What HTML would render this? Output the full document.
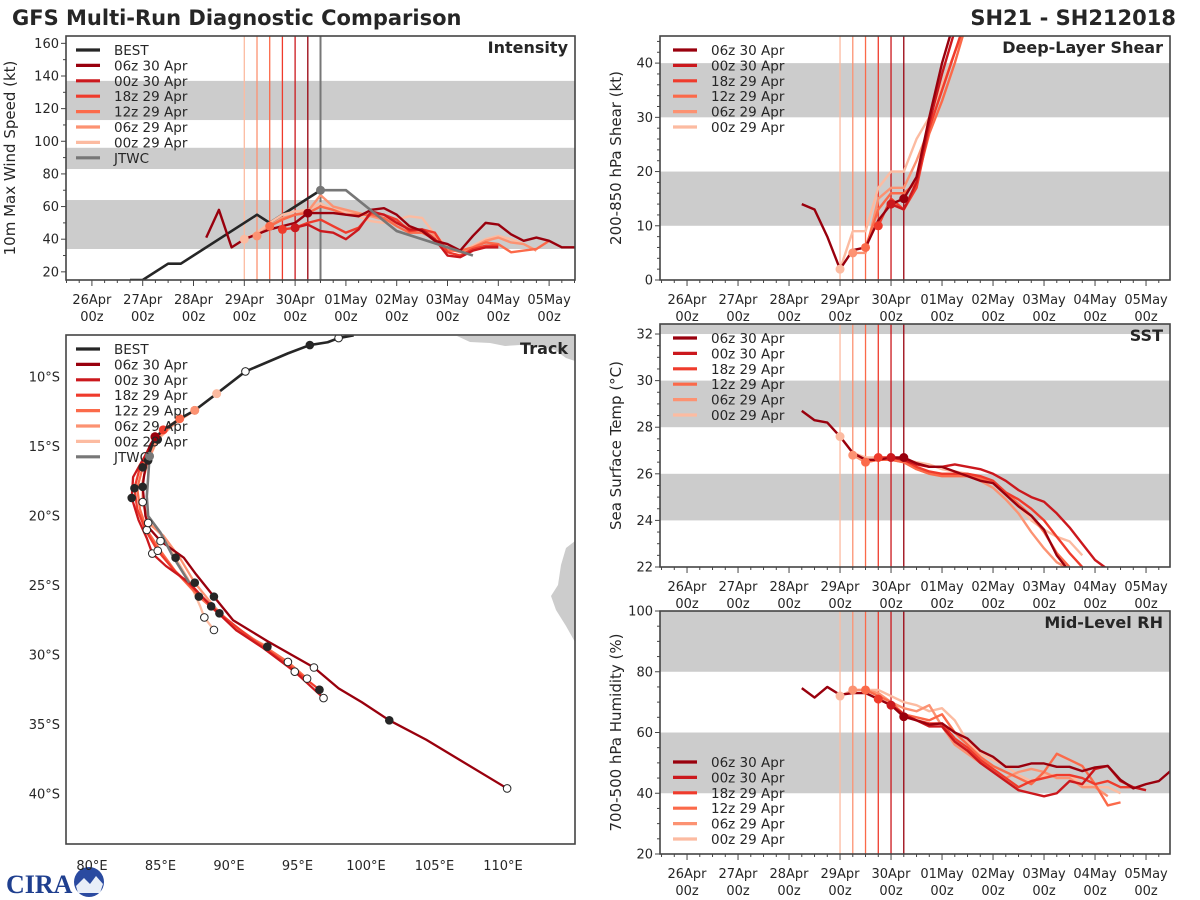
<!DOCTYPE html>
<html><head><meta charset="utf-8"><style>
html,body{margin:0;padding:0;background:#fff;}
svg{display:block;font-family:"DejaVu Sans","Liberation Sans",sans-serif;}
</style></head><body>
<svg id="root" width="1200" height="900" viewBox="0 0 1200 900" xmlns="http://www.w3.org/2000/svg">
<text x="12" y="25" font-size="21" font-weight="bold" fill="#262626">GFS Multi-Run Diagnostic Comparison</text>
<text x="1176" y="25" font-size="21" font-weight="bold" fill="#262626" text-anchor="end">SH21 - SH212018</text>
<g>
<text x="6" y="893" font-size="26" font-weight="bold" fill="#1f3f8f" font-family="Liberation Serif, serif">CIRA</text>
<circle cx="89" cy="882" r="15" fill="#2a4aa0"/>
<path d="M76 886 L84 878 L90 884 L96 876 L103 884 L100 893 L78 893 Z" fill="#e8eef8"/>
</g>
</svg>
<script>
// ---------- shared data ----------
const runNames = ['06z 30 Apr','00z 30 Apr','18z 29 Apr','12z 29 Apr','06z 29 Apr','00z 29 Apr'];
const runColors = ['#99000d','#cb181d','#ef3b2c','#fb6a4a','#fc9272','#fcbba1'];
const initDays = [4.25,4.0,3.75,3.5,3.25,3.0];
const dayLabels = ['26Apr','27Apr','28Apr','29Apr','30Apr','01May','02May','03May','04May','05May'];
const hourLabels = ['00z','00z','00z','00z','00z','00z','00z','00z','00z','00z'];

// intensity (kt)
const intensityStart = [2.25,4.0,3.75,3.5,3.25,3.0];
const intensityValues = [
 [41,58,35,40,43,46,48,50,56,56,56,55,54,58,59,55,48,45,39,37,33,42,50,49,43,39,41,39,35,35],
 [47,49,45,44,40,46,57,55,50,46,46,40,30,29,33,35,35],
 [46,47,50,52,48,44,47,56,55,52,45,46,44,32,30,34,36,36],
 [48,52,55,56,60,58,55,55,55,53,48,44,44,40,33,33,35,38,37,32,33,34,39],
 [42,48,53,55,57,67,60,58,56,54,52,50,47,45,42,34,32,35,39,41,38,37,33],
 [40,44,50,55,57,58,62,58,57,54,51,50,52,54,53,43,35,32,36,40,42,40,37]
];
const bestDays = [0.75,1.0,1.5,1.75,3.25,3.5,4.5];
const bestKt = [15,15,25,25,55,50,70];
const jtwcDays = [4.5,5.0,6.0,7.5];
const jtwcKt = [70,70,45,30];

// shear (kt)
const shearStart = [2.25,4.0,3.75,3.5,3.25,3.0];
const shearValues = [
 [14,13,8,2,5.5,6,11,14,15,19,30,40,48],
 [14,13,18,29,38,46],
 [10,15,13,17,28,35,42,49],
 [6,13,16,16,18,27,33,40,48],
 [5,5,15,17,17,22,28,35,42,48],
 [2,9,9,17,20,20,26,30,36,42,48]
];
// SST (C)
const sstStart = [2.25,4.0,3.75,3.5,3.25,3.0];
const sstValues = [
 [28.7,28.3,28.2,27.6,26.9,26.6,26.6,26.7,26.7,26.45,26.3,26.3,26.1,25.9,25.7,25.6,25.1,24.6,24.2,23.6,22.5,21.8],
 [26.7,26.6,26.4,26.3,26.3,26.4,26.3,26.2,26.0,25.7,25.3,25.0,24.8,24.3,23.7,23.0,22.3,21.9],
 [26.7,26.7,26.6,26.3,26.1,26.0,26.0,26.0,25.9,25.7,25.2,24.9,24.5,24.0,23.3,22.6,22.0],
 [26.5,26.6,26.6,26.5,26.2,26.0,25.9,25.9,25.9,25.8,25.6,25.2,24.7,24.2,23.5,22.6,22.0],
 [26.8,26.5,26.6,26.6,26.5,26.2,26.0,26.0,26.0,25.9,25.7,25.4,24.9,24.3,23.5,22.8,22.2,21.9],
 [27.6,26.9,26.7,26.7,26.7,26.6,26.5,26.4,26.2,26.1,26.0,25.8,25.6,25.2,24.6,24.0,23.6,23.3,23.1,22.5]
];
// RH (%)
const rhStart = [2.25,4.0,3.75,3.5,3.25,3.0];
const rhValues = [
 [74.6,71.5,75,72.4,73,73,71,69,65.2,64,62.6,63,60,58,54,52,48.7,48.7,49.8,49.8,48.7,48.7,47.3,48.5,49,44.4,41.6,43,44,47.6],
 [69,66,64,62,62,57,54,50,47,44,41,40,39,40,44,43,48,49,44,42,41],
 [71,69,66,64,63,63,58,55,51,48,45,42,44,45,46,46,45,43,44,42,42],
 [74,72,70,66,65,64,66,60,56,52,49,47,45,43,47,53,51,49,43,36,37],
 [74,74,73,70,68,67,69,62,56,53,50,48,45,47,48,47,45,45,42,42,39],
 [72,74,74,74,72,70,69,67,68,64,57,53,51,49,46,44,46,46,46,43,42,42,40]
];
// tracks [lon E, lat S]
const bestTrack = [[99.1,7.0],[98.0,7.2],[97.2,7.5],[95.9,7.7],[94.3,8.3],[91.2,9.6],[89.1,11.2],[87.5,12.4],[86.4,13.0],[84.6,14.3],[84.1,15.7]];
const jtwcTrack = [[84.2,15.7],[84.1,17.2],[84.0,18.6],[84.1,20.0],[85.0,21.2],[85.9,22.9],[87.1,24.8]];
const runTracks = [
 [[84.6,14.3],[84.2,15.0],[83.8,17.1],[83.7,17.9],[83.9,20.0],[84.2,20.9],[85.0,21.8],[86.7,23.0],[87.6,24.2],[88.9,25.8],[90.3,27.5],[92.8,29.0],[96.2,30.9],[98.0,32.4],[99.7,33.4],[101.7,34.7],[104.4,36.1],[110.3,39.6]],
 [[84.6,14.3],[83.8,15.8],[83.0,17.2],[82.9,18.7],[83.4,20.3],[84.0,21.6],[84.4,22.7],[85.4,23.6],[87.1,24.8],[88.7,26.5],[90.5,28.2],[92.5,29.5],[94.8,31.2],[96.9,33.1]],
 [[85.2,13.8],[84.3,14.8],[83.5,16.5],[83.1,18.0],[83.3,19.5],[83.9,21.0],[84.8,22.5],[85.9,23.8],[87.5,25.3],[89.3,27.0],[91.6,28.8],[94.3,30.7],[96.6,32.5]],
 [[86.4,13.0],[85.2,13.8],[84.3,15.0],[83.7,16.5],[83.3,18.0],[83.5,19.5],[84.0,21.0],[85.0,22.5],[86.1,24.0],[87.8,25.8],[89.8,27.5],[92.0,29.0],[94.3,30.5],[95.7,31.7]],
 [[87.5,12.4],[86.2,13.2],[84.8,14.4],[84.1,16.0],[83.7,17.5],[83.7,19.0],[84.1,20.5],[85.2,21.4],[86.4,23.0],[87.5,24.8],[88.9,26.5],[90.7,28.3],[92.8,29.4]],
 [[89.1,11.2],[87.5,12.4],[86.1,13.3],[84.8,14.5],[84.1,16.0],[83.7,17.5],[83.7,19.0],[84.2,20.5],[85.2,21.5],[86.1,23.0],[87.0,24.5],[87.9,26.5],[88.2,27.3],[88.9,28.2]]
];
const lonTicks = [80,85,90,95,100,105,110];
const latTicks = [10,15,20,25,30,35,40];

// ---------- helpers ----------
const NS = 'http://www.w3.org/2000/svg';
const root = document.getElementById('root');
function mk(tag, attrs, parent) {
  const e = document.createElementNS(NS, tag);
  for (const k in attrs) e.setAttribute(k, attrs[k]);
  (parent || root).appendChild(e);
  return e;
}
const TXT = '#262626';

function timePanel(cfg) {
  const g = mk('g', {});
  
  
  const {x0,x1,y0,y1,ymin,ymax,tmin,ppd} = cfg;
  const sx = t => x0 + (t - tmin) * ppd;
  const sy = v => y1 - (v - ymin) / (ymax - ymin) * (y1 - y0);
  const cid = 'clip-' + cfg.name;
  const cp = mk('clipPath', {id: cid}, g);
  mk('rect', {x:x0, y:y0, width:x1-x0, height:y1-y0}, cp);
  const inner = mk('g', {'clip-path': 'url(#' + cid + ')'}, g);
  cfg.bands.forEach(b => {
    const top = Math.min(b[1], ymax+5);
    const r = mk('rect', {x:x0, y:sy(top), width:x1-x0, height:sy(b[0])-sy(top), fill:'#cccccc'}, inner);
    
    
  });
  for (let i = runNames.length - 1; i >= 0; i--) {
    const l = mk('line', {x1:sx(initDays[i]), x2:sx(initDays[i]), y1:y0, y2:y1, stroke:runColors[i], 'stroke-width':1.3}, inner);
    
    
  }
  if (cfg.currentLine) {
    const l = mk('line', {x1:sx(cfg.currentLine), x2:sx(cfg.currentLine), y1:y0, y2:y1, stroke:'#777777', 'stroke-width':2}, inner);
    
    
  }
  if (cfg.bestDays) {
    const pts = cfg.bestDays.map((t,i) => sx(t)+','+sy(cfg.bestVals[i])).join(' ');
    const pl = mk('polyline', {points:pts, fill:'none', stroke:'#262626', 'stroke-width':2.6, 'stroke-linejoin':'round'}, inner);
    
    
  }
  for (let i = runNames.length - 1; i >= 0; i--) {
    const vals = cfg.values[i];
    const pts = vals.map((v,k) => sx(cfg.start[i] + k*0.25)+','+sy(v)).join(' ');
    const pl = mk('polyline', {points:pts, fill:'none', stroke:runColors[i], 'stroke-width':2.4, 'stroke-linejoin':'round'}, inner);
    
    
  }
  for (let i = runNames.length - 1; i >= 0; i--) {
    const k = Math.round((initDays[i] - cfg.start[i]) / 0.25);
    const v = cfg.values[i][k];
    const c = mk('circle', {cx:sx(initDays[i]), cy:sy(v), r:4.5, fill:runColors[i]}, inner);
    
    
  }
  if (cfg.jtwcDays) {
    const pts = cfg.jtwcDays.map((t,i) => sx(t)+','+sy(cfg.jtwcVals[i])).join(' ');
    const pl = mk('polyline', {points:pts, fill:'none', stroke:'#777777', 'stroke-width':2.6}, inner);
    
    
    const c = mk('circle', {cx:sx(cfg.jtwcDays[0]), cy:sy(cfg.jtwcVals[0]), r:4.5, fill:'#777777'}, inner);
    
    
  }
  const fr = mk('rect', {x:x0, y:y0, width:x1-x0, height:y1-y0, fill:'none', stroke:'#444', 'stroke-width':1.6}, g);
  
  
  for (let v = cfg.yticks[0]; v <= ymax + 1e-6; v += cfg.yminor) {
    const q = (v - cfg.yticks[0]) / cfg.ystep;
    const isMaj = Math.abs(q - Math.round(q)) < 1e-6 && v <= cfg.yticks[1] + 1e-6;
    mk('line', {x1:x0-(isMaj?5:3), x2:x0, y1:sy(v), y2:sy(v), stroke:'#444', 'stroke-width':1}, g);
    if (isMaj) {
      const t = mk('text', {x:x0-7, y:sy(v)+4.5, 'font-size':13, fill:TXT, 'text-anchor':'end'}, g);
      t.textContent = String(Math.round(v));
      
      
    }
  }
  for (let d = Math.ceil(tmin*4)/4; d <= (x1-x0)/ppd + tmin; d += 0.25) {
    const maj = Math.abs(d - Math.round(d)) < 1e-6;
    mk('line', {x1:sx(d), x2:sx(d), y1:y1, y2:y1+(maj?6:3), stroke:'#444', 'stroke-width':1}, g);
  }
  dayLabels.forEach((lab, i) => {
    const t1 = mk('text', {x:sx(i), y:y1+24, 'font-size':13, fill:TXT, 'text-anchor':'middle'}, g);
    t1.textContent = lab;
    
    
    const t2 = mk('text', {x:sx(i), y:y1+41, 'font-size':13, fill:TXT, 'text-anchor':'middle'}, g);
    t2.textContent = hourLabels[i];
    
    
  });
  const yc = (y0+y1)/2;
  const yt = mk('text', {x:cfg.ytx, y:yc, 'font-size':15, fill:TXT, 'text-anchor':'middle', transform:'rotate(-90 '+cfg.ytx+' '+yc+')'}, g);
  yt.textContent = cfg.ylabel;
  
  
  const pt = mk('text', {x:x1-7, y:y0+17, 'font-size':16, 'font-weight':'bold', fill:TXT, 'text-anchor':'end'}, g);
  pt.textContent = cfg.title;
  
  
  legend(g, cfg.legX, cfg.legY, cfg.legendBest);
}

function legend(g, lx, ly, withBest) {
  const items = [];
  if (withBest) items.push(['BEST', '#262626']);
  runNames.forEach((n,i) => items.push([n, runColors[i]]));
  if (withBest) items.push(['JTWC', '#777777']);
  const lg = mk('g', {}, g);
  
  
  items.forEach((it, i) => {
    const y = ly + i*15.4;
    mk('line', {x1:lx, x2:lx+24, y1:y, y2:y, stroke:it[1], 'stroke-width':3.2}, lg);
    const t = mk('text', {x:lx+38, y:y+5, 'font-size':13.5, fill:TXT}, lg);
    t.textContent = it[0];
    
    
  });
}

timePanel({name:'intensity-panel', x0:66, x1:575, y0:36, y1:280, ymin:15, ymax:164.5, tmin:-0.51, ppd:50.8,
  bands:[[34,64],[83,96],[113,137]], yticks:[20,160], ystep:20, yminor:10, title:'Intensity', ylabel:'10m Max Wind Speed (kt)', ytx:15,
  values:intensityValues, start:intensityStart, bestDays:bestDays, bestVals:bestKt, jtwcDays:jtwcDays, jtwcVals:jtwcKt, currentLine:4.5,
  legX:76, legY:50, legendBest:true});
timePanel({name:'shear-panel', x0:660, x1:1170, y0:36, y1:280, ymin:0, ymax:45, tmin:-0.53, ppd:51,
  bands:[[10,20],[30,40]], yticks:[0,40], ystep:10, yminor:2, title:'Deep-Layer Shear', ylabel:'200-850 hPa Shear (kt)', ytx:621,
  values:shearValues, start:shearStart, legX:673, legY:50, legendBest:false});
timePanel({name:'sst-panel', x0:660, x1:1170, y0:324, y1:567, ymin:22, ymax:32.43, tmin:-0.53, ppd:51,
  bands:[[24,26],[28,30],[32,34]], yticks:[22,32], ystep:2, yminor:0.5, title:'SST', ylabel:'Sea Surface Temp (°C)', ytx:621,
  values:sstValues, start:sstStart, legX:673, legY:338, legendBest:false});
timePanel({name:'rh-panel', x0:660, x1:1170, y0:611, y1:854, ymin:20, ymax:100, tmin:-0.53, ppd:51,
  bands:[[40,60],[80,100]], yticks:[20,100], ystep:20, yminor:5, title:'Mid-Level RH', ylabel:'700-500 hPa Humidity (%)', ytx:621,
  values:rhValues, start:rhStart, legX:673, legY:762, legendBest:false});

// ---------- track panel ----------
(function(){
  const x0=66, x1=575, y0=335, y1=844;
  const px = lon => 92 + (lon-80)*13.7;
  const py = lat => 377 + (lat-10)*13.9;
  const g = mk('g', {});
  
  
  const cp = mk('clipPath', {id:'clip-track'}, g);
  mk('rect', {x:x0, y:y0, width:x1-x0, height:y1-y0}, cp);
  const inner = mk('g', {'clip-path':'url(#clip-track)'}, g);
  const land1 = mk('path', {d:'M457 336 L575 336 L575 361 L566 358 L555 350 L540 347 L520 345 L505 346 L490 343 L470 342 Z', fill:'#cccccc'}, inner);
  
  
  const land2 = mk('path', {d:'M575 541 L566 548 L561 565 L558 585 L551 596 L556 610 L566 626 L575 642 Z', fill:'#cccccc'}, inner);
  
  
  function drawTrack(tr, color, name, w) {
    const pl = mk('polyline', {points:tr.map(p => px(p[0])+','+py(p[1])).join(' '), fill:'none', stroke:color, 'stroke-width':w, 'stroke-linejoin':'round'}, inner);
    
    
  }
  for (let i = runTracks.length-1; i >= 0; i--) drawTrack(runTracks[i], runColors[i], 'track-' + runNames[i].replace(/ /g,'-').toLowerCase(), 2.3);
  drawTrack(jtwcTrack, '#777777', 'track-jtwc', 2.6);
  drawTrack(bestTrack, '#262626', 'track-best', 2.6);
  function marker(p, open) {
    const c = mk('circle', {cx:px(p[0]), cy:py(p[1]), r:3.8, fill:open?'#ffffff':'#262626', stroke:'#262626', 'stroke-width':1}, inner);
    
    
  }
  bestTrack.forEach((p,k) => { if (k % 2 === 1) marker(p, k % 4 === 1); });
  runTracks.forEach(tr => tr.forEach((p,k) => { if (k > 0 && k % 3 === 0) marker(p, k % 6 === 0); }));
  runTracks.forEach(tr => marker(tr[tr.length-1], tr.length % 2 === 0));
  for (let i = runTracks.length-1; i >= 0; i--) {
    const c = mk('circle', {cx:px(runTracks[i][0][0]), cy:py(runTracks[i][0][1]), r:4.5, fill:runColors[i]}, inner);
    
    
  }
  const jc = mk('circle', {cx:px(jtwcTrack[0][0]), cy:py(jtwcTrack[0][1]), r:4.5, fill:'#777777'}, inner);
  
  
  const fr = mk('rect', {x:x0, y:y0, width:x1-x0, height:y1-y0, fill:'none', stroke:'#444', 'stroke-width':1.6}, g);
  
  
  lonTicks.forEach(l => {
    const t = mk('text', {x:px(l), y:870, 'font-size':13, fill:TXT, 'text-anchor':'middle'}, g);
    t.textContent = l + '°E';
    
    
  });
  latTicks.forEach(l => {
    const t = mk('text', {x:60, y:py(l)+4.5, 'font-size':13, fill:TXT, 'text-anchor':'end'}, g);
    t.textContent = l + '°S';
    
    
  });
  const pt = mk('text', {x:x1-7, y:y0+19, 'font-size':16, 'font-weight':'bold', fill:TXT, 'text-anchor':'end'}, g);
  pt.textContent = 'Track';
  
  
  legend(g, 76, 349, true);
})();
</script>
</body></html>
